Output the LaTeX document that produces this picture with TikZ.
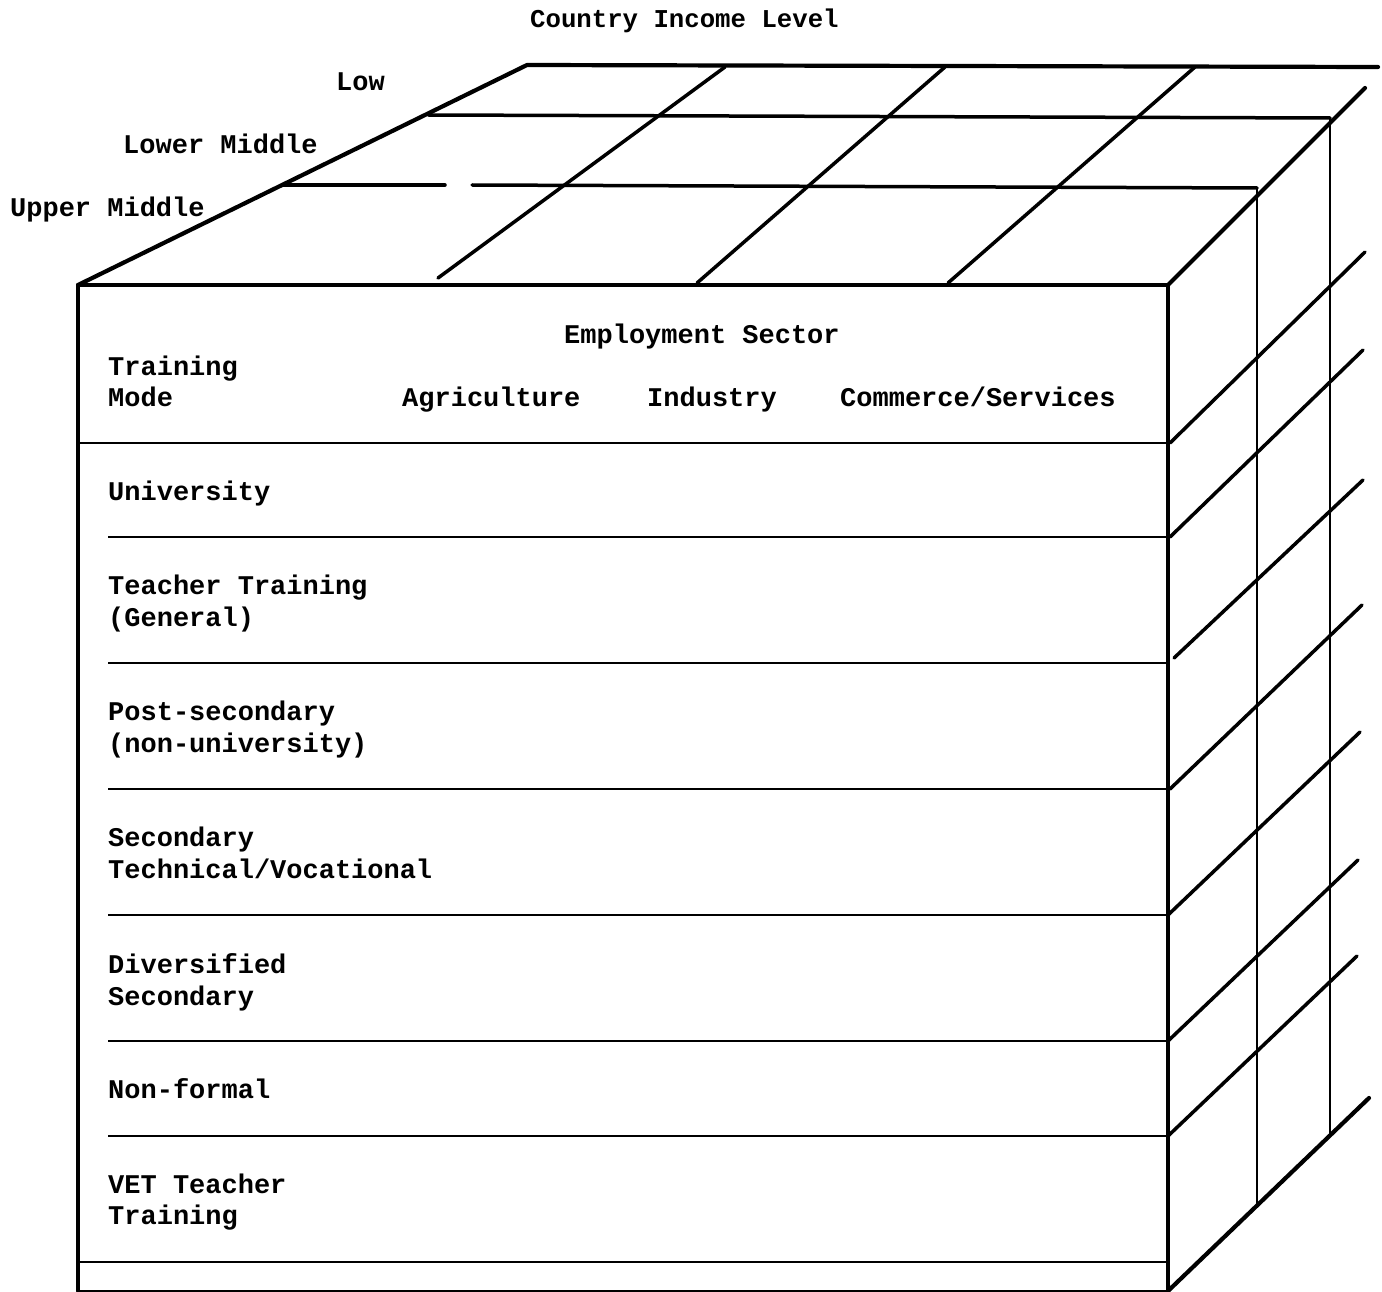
\documentclass[tikz,border=0pt]{standalone}
\usepackage{fontspec}
\newfontfamily\tw{Liberation Mono}
\begin{document}
\begin{tikzpicture}[x=1pt,y=-1pt,
  lbl/.style={font=\tw\bfseries\fontsize{27}{32}\selectfont, anchor=base west, inner sep=0pt},
  edge/.style={line width=4.2pt, line cap=round, line join=round},
  grid/.style={line width=3.5pt, line cap=round},
  rowline/.style={line width=2.8pt},
  vline/.style={line width=2.8pt}]
\useasboundingbox (0,0) rectangle (1382,1292);
% corners
\coordinate (FTL) at (78,285);
\coordinate (FTR) at (1168,285);
\coordinate (FBR) at (1168,1291);
\coordinate (FBL) at (78,1291);
\coordinate (BTL) at (527,65);
\coordinate (BTR) at (1378,67);
\coordinate (RTE) at (1365,88);
\coordinate (RBE) at (1369,1098);
% front face outline
\draw[edge] (FBL) -- (FTL) -- (FTR) -- (FBR);
\draw[rowline] (FBL) -- (1166,1291);
% top face
\draw[edge] (FTL) -- (BTL) -- (BTR);
\draw[grid] (428,115) -- (1330,118);
\draw[grid] (283,185) -- (445,185);
\draw[grid] (472,185) -- (1257,188);
\draw[grid] (438,278) -- (725,67);
\draw[grid] (697,283) -- (945,67);
\draw[grid] (948,283) -- (1195,67);
\draw[edge] (FTR) -- (RTE);
% right face
\draw[vline] (1257,188) -- (1257,1206);
\draw[vline] (1330,118) -- (1330,1136);
\draw[grid] (1170,443) -- (1365,252);
\draw[grid] (1170,537) -- (1363,350);
\draw[grid] (1174,658) -- (1363,480);
\draw[grid] (1170,789) -- (1362,605);
\draw[grid] (1168,915) -- (1360,732);
\draw[grid] (1168,1041) -- (1358,860);
\draw[grid] (1168,1136) -- (1357,956);
\draw[edge] (FBR) -- (RBE);
% front face rows
\draw[rowline] (78,443) -- (1168,443);
\foreach \yy in {537,663,789,915,1041,1136} {
  \draw[rowline] (108,\yy) -- (1168,\yy);
}
\draw[rowline] (78,1262) -- (1166,1262);
% labels
\node[lbl, font=\tw\bfseries\fontsize{25.7}{30}\selectfont] (country) at (530,28) {Country Income Level};
\node[lbl] (low) at (336,91) {Low};
\node[lbl] (lmid) at (123,154) {Lower Middle};
\node[lbl] (umid) at (10,217) {Upper Middle};
\node[lbl] (emp) at (564,343) {Employment Sector};
\node[lbl] (tm1) at (108,375) {Training};
\node[lbl] (tm2) at (108,406) {Mode};
\node[lbl] (agri) at (402,406) {Agriculture};
\node[lbl] (ind) at (647,406) {Industry};
\node[lbl] (com) at (840,406) {Commerce/Services};
\node[lbl] (univ) at (108,500) {University};
\node[lbl] (tt1) at (108,594) {Teacher Training};
\node[lbl] (tt2) at (108,626) {(General)};
\node[lbl] (ps1) at (108,720) {Post-secondary};
\node[lbl] (ps2) at (108,752) {(non-university)};
\node[lbl] (sec1) at (108,846) {Secondary};
\node[lbl] (sec2) at (108,878) {Technical/Vocational};
\node[lbl] (div1) at (108,973) {Diversified};
\node[lbl] (div2) at (108,1005) {Secondary};
\node[lbl] (nf) at (108,1098) {Non-formal};
\node[lbl] (vet1) at (108,1193) {VET Teacher};
\node[lbl] (vet2) at (108,1224) {Training};
\end{tikzpicture}
\end{document}
